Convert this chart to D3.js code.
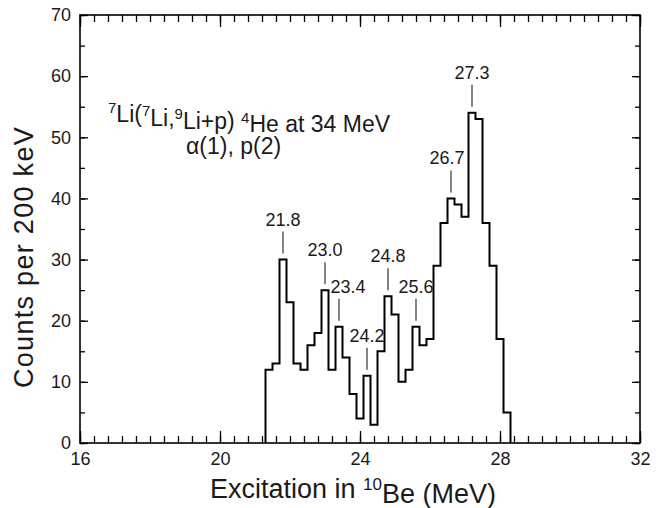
<!DOCTYPE html>
<meta charset="utf-8">
<style>
body { margin: 0; background: #fff; }
text { font-family: "Liberation Sans", Arial, sans-serif; fill: #1a1a1a; }
.tick text { font-size: 18px; }
.axis path { stroke: none; }
.axis line { stroke: #000; stroke-width: 1.3; }
.peak text { font-size: 18px; text-anchor: middle; }
.peak line { stroke: #333; stroke-width: 1.2; }
</style>
<svg width="667" height="508"></svg>
<script src="https://d3js.org/d3.v7.min.js"></script>
<script>

// bins of 200 keV in 10Be excitation (MeV)
var binCenters = [21.4, 21.6, 21.8, 22.0, 22.2, 22.4, 22.6, 22.8, 23.0, 23.2,
                  23.4, 23.6, 23.8, 24.0, 24.2, 24.4, 24.6, 24.8, 25.0, 25.2,
                  25.4, 25.6, 25.8, 26.0, 26.2, 26.4, 26.6, 26.8, 27.0, 27.2,
                  27.4, 27.6, 27.8, 28.0, 28.2];
var counts = [12, 13, 30, 23, 13, 12, 16, 18, 25, 12,
              19, 14, 8, 4, 11, 3, 15, 24, 21, 10,
              12, 19, 16, 17, 29, 36, 40, 39, 37, 54,
              53, 36, 29, 17, 5];
var binWidth = 0.2;

var peakLabels = ["21.8", "23.0", "23.4", "24.2", "24.8", "25.6", "26.7", "27.3"];

var xTicks = [16, 20, 24, 28, 32],
    yTicks = [0, 10, 20, 30, 40, 50, 60, 70];

var svg = d3.select("svg"),
    margin = {top: 15, right: 27, bottom: 65, left: 80},
    width = svg.attr("width") - margin.left - margin.right,
    height = svg.attr("height") - margin.top - margin.bottom;

var x = d3.scaleLinear().domain([16, 32]).range([0, width]);
var y = d3.scaleLinear().domain([0, 70]).range([height, 0]);

var g = svg.append("g")
    .attr("transform", "translate(" + margin.left + "," + margin.top + ")");

var minorX = d3.range(16, 32.01, 0.4),
    minorY = d3.range(0, 70.01, 5);

// bottom
g.append("g").attr("class", "axis")
    .attr("transform", "translate(0," + height + ")")
    .call(d3.axisBottom(x).tickValues(minorX).tickSize(-7).tickFormat(""));
g.append("g").attr("class", "axis")
    .attr("transform", "translate(0," + height + ")")
    .call(d3.axisBottom(x).tickValues(xTicks).tickSize(-12).tickPadding(9).tickFormat(d3.format("d")));
// top
g.append("g").attr("class", "axis")
    .call(d3.axisTop(x).tickValues(minorX).tickSize(-7).tickFormat(""));
g.append("g").attr("class", "axis")
    .call(d3.axisTop(x).tickValues(xTicks).tickSize(-12).tickFormat(""));
// left
g.append("g").attr("class", "axis")
    .call(d3.axisLeft(y).tickValues(minorY).tickSize(-5).tickFormat(""));
g.append("g").attr("class", "axis")
    .call(d3.axisLeft(y).tickValues(yTicks).tickSize(-8).tickPadding(9).tickFormat(d3.format("d")));
// right
g.append("g").attr("class", "axis")
    .attr("transform", "translate(" + width + ",0)")
    .call(d3.axisRight(y).tickValues(minorY).tickSize(-5).tickFormat(""));
g.append("g").attr("class", "axis")
    .attr("transform", "translate(" + width + ",0)")
    .call(d3.axisRight(y).tickValues(yTicks).tickSize(-8).tickFormat(""));

g.append("rect")
    .attr("width", width)
    .attr("height", height)
    .attr("fill", "none")
    .attr("stroke", "#000")
    .attr("stroke-width", 1.6);

// histogram outline
var pts = [[binCenters[0] - binWidth / 2, 0]];
binCenters.forEach(function(c, i) { pts.push([c - binWidth / 2, counts[i]]); });
pts.push([binCenters[binCenters.length - 1] + binWidth / 2, 0]);

g.append("path")
    .datum(pts)
    .attr("fill", "none")
    .attr("stroke", "#000")
    .attr("stroke-width", 2)
    .attr("d", d3.line()
        .x(function(d) { return x(d[0]); })
        .y(function(d) { return y(d[1]); })
        .curve(d3.curveStepAfter));

// peak markers
var nudge = {"23.4": 9, "26.7": -4};
var peaks = peakLabels.map(function(s) {
  var v = +s, best = -1;
  binCenters.forEach(function(c, i) {
    if (Math.abs(c - v) <= 0.11 && (best < 0 || counts[i] > counts[best])) best = i;
  });
  return {label: s, x: binCenters[best], n: counts[best]};
});

var pk = g.append("g").attr("class", "peak")
  .selectAll("g").data(peaks).enter().append("g");

pk.append("line")
    .attr("x1", function(d) { return x(d.x); })
    .attr("x2", function(d) { return x(d.x); })
    .attr("y1", function(d) { return y(d.n) - 6; })
    .attr("y2", function(d) { return y(d.n) - 28; });

pk.append("text")
    .attr("x", function(d) { return x(d.x) + (nudge[d.label] || 0); })
    .attr("y", function(d) { return y(d.n) - 34; })
    .text(function(d) { return d.label; });

// reaction annotation
var ann = svg.append("text")
    .attr("x", 108)
    .attr("y", 119)
    .style("font-size", "23px");
function sup(t, s) {
  t.append("tspan").attr("dy", "-0.42em").style("font-size", "15px").text(s);
}
function txt(t, s) {
  t.append("tspan").attr("dy", "0.42em").text(s);
}
ann.append("tspan").attr("dy", "-0.42em").style("font-size", "15px").text("7");
txt(ann, "Li(");
sup(ann, "7");
txt(ann, "Li,");
sup(ann, "9");
txt(ann, "Li+p) ");
sup(ann, "4");
txt(ann, "He at 34 MeV");

svg.append("text")
    .attr("x", 186)
    .attr("y", 154)
    .style("font-size", "23px")
    .text("\u03b1(1), p(2)");

// axis titles
var xt = svg.append("text")
    .attr("x", 353)
    .attr("y", 498)
    .attr("text-anchor", "middle")
    .style("font-size", "27px");
xt.append("tspan").text("Excitation in ");
xt.append("tspan").attr("dy", "-0.45em").style("font-size", "17px").text("10");
xt.append("tspan").attr("dy", "0.45em").text("Be (MeV)");

svg.append("text")
    .attr("transform", "translate(33,257) rotate(-90)")
    .attr("text-anchor", "middle")
    .style("font-size", "27px")
    .style("letter-spacing", "1.3px")
    .text("Counts per 200 keV");

</script>
